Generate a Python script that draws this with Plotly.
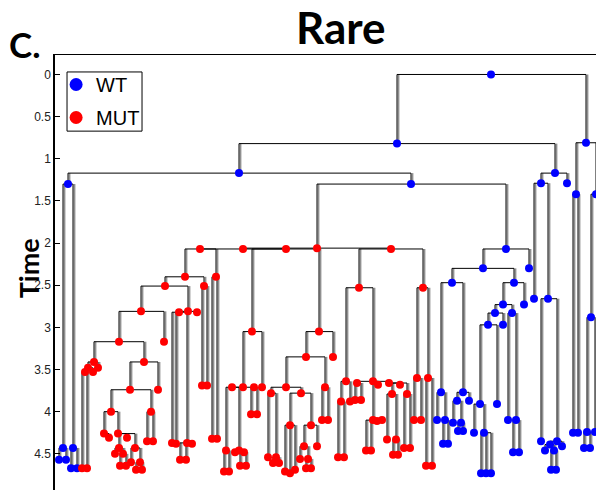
import plotly.graph_objects as go

# ---------------- WT (blue) nodes ----------------
wt_names = ["a0", "a1", "a2", "a3", "a4", "a5", "a6", "a7", "a8", "a9", "a10",
            "w1", "w2", "w3", "w4", "w5", "w6",
            "b2", "b21", "b22", "b211", "b212", "b2111", "b2112", "b21111", "b21112", "b211121", "b211122",
            "b21121", "b21122", "b211211", "b211212", "b2112121", "b2112122",
            "b2121", "b2122", "b21211", "b21212", "b212111", "b212112", "b2121111", "b2121112",
            "b21211111", "b21211112", "c1", "c2", "c3", "b212121", "b212122", "b2121221", "b2121222",
            "r1", "r2", "r21", "r22", "r221", "r222", "r2211", "r2212", "r22121", "r22122",
            "s1", "s2", "t1", "t2", "t11", "t12", "t111", "t112"]
wt_parents = [None, "a0", "a0", "a1", "a1", "a3", "a3", "a4", "a4", "a2", "a2",
              "a5", "a5", "w1", "w1", "w2", "w2",
              "a6", "b2", "b2", "b21", "b21", "b211", "b211", "b2111", "b2111", "b21112", "b21112",
              "b2112", "b2112", "b21121", "b21121", "b211212", "b211212",
              "b212", "b212", "b2121", "b2121", "b21211", "b21211", "b212111", "b212111",
              "b2121111", "b2121111", "b21211112", "b21211112", "b21211112", "b21212", "b21212", "b212122", "b212122",
              "a7", "a7", "r2", "r2", "r22", "r22", "r221", "r221", "r2212", "r2212",
              "a9", "a9", "a10", "a10", "t1", "t1", "t11", "t11"]
wt_pos = [491, 397, 586, 239, 555, 68, 411, 541, 567, 576, 596,
          63, 73, 59, 66, 71, 77,
          506, 483, 529, 452, 514, 441, 463, 437, 445, 443, 448,
          457, 469, 453, 461, 458, 463,
          503, 524, 495, 512, 488, 503, 480, 497,
          474, 484, 481, 486, 491, 508, 516, 513, 519,
          534, 548, 541, 557, 550, 562, 545, 554, 551, 556,
          573, 578, 591, 600, 587, 595, 584, 590]
wt_time = [0.00, 0.82, 0.81, 1.17, 1.17, 1.30, 1.30, 1.29, 1.29, 1.42, 1.42,
           4.43, 4.43, 4.57, 4.57, 4.67, 4.67,
           2.07, 2.30, 2.30, 2.47, 2.47, 3.77, 3.77, 4.10, 4.10, 4.38, 4.38,
           3.87, 3.87, 4.13, 4.13, 4.23, 4.23,
           2.73, 2.73, 2.83, 2.83, 2.97, 2.97, 3.91, 3.91,
           4.25, 4.25, 4.73, 4.73, 4.73, 4.10, 4.10, 4.48, 4.48,
           2.66, 2.66, 4.35, 4.35, 4.39, 4.41, 4.46, 4.46, 4.69, 4.69,
           4.25, 4.25, 2.88, 2.88, 4.24, 4.24, 4.43, 4.43]

# ---------------- MUT (red) nodes ----------------
mut_names = ["m0", "mC", "mD", "mE", "mF", "mE1", "mE2", "mE1a", "mE1b", "mE1b1", "mE1b2", "mE2a", "mE2b",
             "g1", "g2", "g21", "g22", "g211", "g212", "g213", "g2121", "g2122", "g2123",
             "h1", "h2", "h11", "h12", "h111", "h112", "h1111", "h1112", "h11111", "h11112",
             "h121", "h122", "h1211", "h1212", "h12121", "h12122",
             "k1", "k2", "k11", "k21", "k22", "k23", "k211", "k212", "k2121", "k2122", "k221", "k222", "k2221", "k2222",
             "f1", "f2", "f11", "f12", "f111", "f112", "f1111", "f1112", "f11111", "f11112", "f11121", "f11122",
             "f111221", "f111222", "f1121", "f1122",
             "f21", "f22", "f211", "f212", "f2111", "f2112", "f21111", "f21112", "f211121", "f211122",
             "f21121", "f21122", "f211211", "f211212", "f211213", "f211221", "f211222", "f2112211", "f2112212",
             "f21122121", "f21122122", "f2121", "f2122",
             "d1", "d2", "d11", "d12", "d111", "d112", "d1111", "d1112",
             "d121", "d122", "d123", "d124", "d1211", "d1212", "d1231", "d1232", "d1233", "d1234",
             "d1221", "d1222", "d1223", "d12211", "d12212", "d122121", "d122122", "d12221", "d12222",
             "d21", "d22", "d211", "d212", "d221", "d222"]
mut_parents = ["a6", "m0", "m0", "mC", "mC", "mE", "mE", "mE1", "mE1", "mE1b", "mE1b", "mE2", "mE2",
               "mE1a", "mE1a", "g2", "g2", "g21", "g21", "g21", "g212", "g212", "g212",
               "g1", "g1", "h1", "h1", "h11", "h11", "h111", "h111", "h1111", "h1111",
               "h12", "h12", "h121", "h121", "h1212", "h1212",
               "h1211", "h1211", "k1", "k2", "k2", "k2", "k21", "k21", "k212", "k212", "k22", "k22", "k222", "k222",
               "mF", "mF", "f1", "f1", "f11", "f11", "f111", "f111", "f1111", "f1111", "f1112", "f1112",
               "f11122", "f11122", "f112", "f112",
               "f2", "f2", "f21", "f21", "f211", "f211", "f2111", "f2111", "f21112", "f21112",
               "f2112", "f2112", "f21121", "f21121", "f21121", "f21122", "f21122", "f211221", "f211221",
               "f2112212", "f2112212", "f212", "f212",
               "mD", "mD", "d1", "d1", "d11", "d11", "d111", "d111",
               "d12", "d12", "d12", "d12", "d121", "d121", "d123", "d123", "d123", "d123",
               "d122", "d122", "d122", "d1221", "d1221", "d12212", "d12212", "d1222", "d1222",
               "d2", "d2", "d21", "d21", "d22", "d22"]
mut_pos = [317, 243, 391, 200, 286, 185, 216, 165, 204, 202, 207, 212, 217,
           141, 188, 179, 197, 172, 187, 176, 180, 186, 192,
           119, 164, 94, 144, 88, 98, 85, 93, 82, 87,
           130, 158, 111, 151, 147, 153,
           104, 118, 109, 119, 135, 127, 115, 123, 120, 126, 131, 140, 136, 142,
           252, 319, 243, 262, 232, 254, 226, 239, 224, 229, 235, 244,
           240, 246, 251, 257,
           306, 333, 286, 325, 271, 301, 268, 276, 273, 279,
           290, 311, 285, 295, 290, 304, 317, 300, 308,
           306, 311, 322, 328,
           359, 423, 346, 373, 341, 350, 338, 344,
           357, 389, 373, 378, 355, 361, 366, 371, 377, 382,
           392, 407, 400, 387, 396, 393, 398, 404, 410,
           417, 428, 414, 421, 426, 432]
mut_time = [2.06, 2.07, 2.07, 2.07, 2.07, 2.40, 2.40, 2.51, 2.51, 3.69, 3.69, 4.32, 4.32,
            2.81, 2.81, 2.82, 2.82, 4.37, 4.37, 4.38, 4.57, 4.57, 4.38,
            3.17, 3.17, 3.41, 3.41, 3.48, 3.48, 3.53, 3.53, 4.67, 4.67,
            3.74, 3.74, 4.00, 4.00, 4.35, 4.35,
            4.26, 4.26, 4.31, 4.43, 4.43, 4.31, 4.50, 4.50, 4.64, 4.64, 4.60, 4.60, 4.69, 4.69,
            3.05, 3.05, 3.71, 3.71, 3.71, 3.71, 4.46, 4.46, 4.71, 4.71, 4.48, 4.48,
            4.64, 4.64, 4.03, 4.03,
            3.35, 3.35, 3.71, 3.71, 3.78, 3.78, 4.54, 4.54, 4.61, 4.61,
            4.16, 4.16, 4.71, 4.69, 4.73, 4.41, 4.41, 4.56, 4.56,
            4.67, 4.67, 4.10, 4.10,
            2.53, 2.53, 3.64, 3.64, 3.88, 3.88, 4.54, 4.54,
            3.66, 3.66, 4.10, 3.68, 3.86, 3.86, 4.46, 4.46, 4.11, 4.10,
            3.79, 3.79, 3.68, 4.33, 4.33, 4.51, 4.51, 4.43, 4.43,
            3.60, 3.60, 4.10, 4.10, 4.64, 4.64]

time_ticks = [0, 0.5, 1, 1.5, 2, 2.5, 3, 3.5, 4, 4.5]

# ---------------- build tree segments ----------------
all_names = wt_names + mut_names
all_parents = wt_parents + mut_parents
all_pos = wt_pos + mut_pos
all_time = wt_time + mut_time
index = {n: i for i, n in enumerate(all_names)}

seg_x, seg_y, shade_x, shade_y = [], [], [], []
for n, p, x, t in zip(all_names, all_parents, all_pos, all_time):
    if p is None:
        continue
    px, pt = all_pos[index[p]], all_time[index[p]]
    seg_x += [px, x, x, None]
    seg_y += [pt, pt, t, None]
    shade_x += [x + 1.5, x + 1.5, None]
    shade_y += [pt, t, None]

fig = go.Figure()
fig.add_trace(go.Scatter(x=shade_x, y=shade_y, mode="lines",
                         line=dict(color="#909090", width=1.8), hoverinfo="skip", showlegend=False))
fig.add_trace(go.Scatter(x=seg_x, y=seg_y, mode="lines",
                         line=dict(color="black", width=1), hoverinfo="skip", showlegend=False))
fig.add_trace(go.Scatter(x=wt_pos, y=wt_time, mode="markers",
                         marker=dict(color="#0000ff", size=8, line=dict(width=0)), showlegend=False))
fig.add_trace(go.Scatter(x=mut_pos, y=mut_time, mode="markers",
                         marker=dict(color="#ff0000", size=8, line=dict(width=0)), showlegend=False))
# legend entries
fig.add_trace(go.Scatter(x=[None], y=[None], mode="markers", name="WT", legendgroup="wt",
                         marker=dict(color="#0000ff", size=13)))
fig.add_trace(go.Scatter(x=[None], y=[None], mode="markers", name="MUT", legendgroup="mut",
                         marker=dict(color="#ff0000", size=13)))

# page has an 8px body margin: figure is 596x482 so the plot area sits at page x 55..604, y 55..490
fig.update_layout(
    width=596, height=482,
    margin=dict(l=47, r=0, t=47, b=0),
    plot_bgcolor="white", paper_bgcolor="white",
    showlegend=True,
    legend=dict(x=0.002, y=0.977, xanchor="left", yanchor="top",
                borderwidth=0, bgcolor="rgba(0,0,0,0)",
                font=dict(family="Liberation Sans, Arial", size=20, color="black"),
                itemwidth=30, tracegroupgap=4),
    xaxis=dict(range=[55, 604], showgrid=False, zeroline=False, showticklabels=False,
               ticks="", showline=True, side="top", linecolor="black", linewidth=1,
               mirror=False, automargin=False, fixedrange=True),
    yaxis=dict(range=[4.929, -0.231], tickvals=time_ticks,
               ticktext=[f"{v:g}" for v in time_ticks],
               ticks="inside", ticklen=5, tickcolor="black", tickwidth=1,
               showline=True, linecolor="black", linewidth=1.5, mirror="ticks",
               showgrid=False, zeroline=False, automargin=False,
               tickfont=dict(family="Liberation Sans, Arial", size=12, color="#222")),
    shapes=[dict(type="rect", xref="paper", yref="paper",
                 x0=0.0219, x1=0.1585, y0=0.825, y1=0.961,
                 line=dict(color="black", width=1), fillcolor="white", layer="below")],
    annotations=[
        dict(text="<b>Rare</b>", x=0.521, y=1.064, xref="paper", yref="paper",
             xanchor="center", yanchor="middle", showarrow=False,
             font=dict(family="Lato, Open Sans", size=44, color="black")),
        dict(text="<b>C.</b>", x=-0.0555, y=1.026, xref="paper", yref="paper",
             xanchor="center", yanchor="middle", showarrow=False,
             font=dict(family="Lato, Open Sans", size=35, color="black")),
        dict(text="<b>Time</b>", x=-0.049, y=0.51, xref="paper", yref="paper",
             xanchor="center", yanchor="middle", showarrow=False, textangle=-90,
             font=dict(family="Lato, Open Sans", size=27, color="black")),
    ],
)

fig.write_html("out.html")
